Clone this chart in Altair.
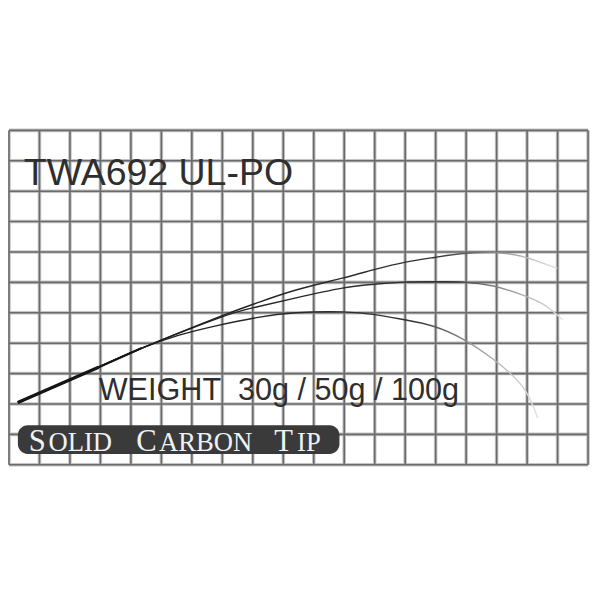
import altair as alt
import pandas as pd

# grid (19 columns x 11 rows)
grid_cols = list(range(20))
grid_rows = list(range(12))

# curves, in grid units (x to the right, y upward)
x_30g = [0.29, 2.94, 4.34, 6.83, 8.12, 9.42, 10.94, 12.01, 12.98, 13.95, 14.92, 15.89, 16.86, 17.99]
y_30g = [2.05, 3.21, 3.83, 4.84, 5.32, 5.75, 6.14, 6.43, 6.66, 6.82, 6.95, 6.98, 6.85, 6.46]
x_50g = [0.29, 2.94, 4.34, 6.83, 8.12, 9.42, 10.94, 12.01, 12.98, 13.95, 14.92, 15.89, 16.86, 17.61, 18.16]
y_50g = [2.05, 3.21, 3.83, 4.81, 5.19, 5.49, 5.81, 5.94, 6.01, 6.02, 6.01, 5.88, 5.58, 5.23, 4.77]
x_100g = [0.29, 2.94, 4.34, 5.53, 6.83, 8.12, 9.42, 10.94, 12.01, 12.98, 13.95, 14.92, 15.89, 16.86, 17.35]
y_100g = [2.05, 3.21, 3.83, 4.25, 4.58, 4.84, 5.0, 5.03, 4.94, 4.77, 4.55, 4.12, 3.47, 2.56, 1.53]

title_text = ["TWA692 UL-PO"]
weight_text = ["WEIGHT\u00a0\u00a030g / 50g / 100g"]
badge_big = ["S", "C", "T"]
badge_small = ["OLID", "ARBON", "IP"]

W, H = 587, 339
xs = alt.Scale(domain=[0, 19], range=[0, W])
ys = alt.Scale(domain=[0, 11], range=[H, 0])

vdf = pd.DataFrame({"c": grid_cols})
hdf = pd.DataFrame({"r": grid_rows})

v_halo = alt.Chart(vdf).mark_rule(color="#c4c4c4", strokeWidth=3.6).encode(
    x=alt.X("c:Q", scale=xs, axis=None))
h_halo = alt.Chart(hdf).mark_rule(color="#c4c4c4", strokeWidth=3.6).encode(
    y=alt.Y("r:Q", scale=ys, axis=None))
v_core = alt.Chart(vdf).mark_rule(color="#6a6a6a", strokeWidth=1.6).encode(
    x=alt.X("c:Q", scale=xs, axis=None))
h_core = alt.Chart(hdf).mark_rule(color="#6a6a6a", strokeWidth=1.6).encode(
    y=alt.Y("r:Q", scale=ys, axis=None))


def frame(xv, yv):
    return pd.DataFrame({"x": xv, "y": yv, "i": list(range(len(xv)))})


def curve(xv, yv, fade_start, fade_mid):
    grad = alt.Gradient(
        gradient="linear", x1=0, x2=1, y1=0, y2=0,
        stops=[
            alt.GradientStop(offset=0, color="#111111"),
            alt.GradientStop(offset=fade_start, color="#333333"),
            alt.GradientStop(offset=fade_mid, color="#9a9a9a"),
            alt.GradientStop(offset=1, color="#e2e2e2"),
        ],
    )
    return alt.Chart(frame(xv, yv)).mark_line(
        color=grad, strokeWidth=1.4, interpolate="natural"
    ).encode(
        x=alt.X("x:Q", scale=xs, axis=None),
        y=alt.Y("y:Q", scale=ys, axis=None),
        order="i:Q",
    )


c30 = curve(x_30g, y_30g, 0.78, 0.9)
c50 = curve(x_50g, y_50g, 0.8, 0.9)
c100 = curve(x_100g, y_100g, 0.76, 0.88)


def butt_layer(limit, width):
    return alt.Chart(frame(x_30g, y_30g)).transform_filter(
        f"datum.x <= {limit}"
    ).mark_line(color="#151515", strokeWidth=width, interpolate="monotone").encode(
        x=alt.X("x:Q", scale=xs, axis=None),
        y=alt.Y("y:Q", scale=ys, axis=None),
        order="i:Q",
    )


# thicker butt section where the three curves run together
butt = butt_layer(3.0, 3.2)
butt2 = butt_layer(4.4, 2.2)

title = alt.Chart(pd.DataFrame({"t": title_text})).mark_text(
    font="Liberation Sans", fontSize=38, color="#2e2e2e", align="left", baseline="alphabetic"
).encode(text="t:N", x=alt.value(15), y=alt.value(55))

weight = alt.Chart(pd.DataFrame({"t": weight_text})).mark_text(
    font="Liberation Sans", fontSize=31, color="#2e2e2e", align="left", baseline="alphabetic"
).encode(text="t:N", x=alt.value(91), y=alt.value(273))

badge = alt.Chart(pd.DataFrame({"a": [0]})).mark_rect(
    color="#3a3a3a", cornerRadius=10
).encode(x=alt.value(9), x2=alt.value(335), y=alt.value(299), y2=alt.value(328))

big_df = pd.DataFrame({"t": badge_big, "px": [20, 129, 269]})
small_df = pd.DataFrame({"t": badge_small, "px": [40, 152, 292]})

big = alt.Chart(big_df).mark_text(
    font="Liberation Serif", fontSize=31, color="#eef2f6", align="left", baseline="alphabetic"
).encode(text="t:N", x=alt.X("px:Q", scale=None), y=alt.value(325))
small = alt.Chart(small_df).mark_text(
    font="Liberation Serif", fontSize=27, color="#eef2f6", align="left", baseline="alphabetic"
).encode(text="t:N", x=alt.X("px:Q", scale=None), y=alt.value(325))

chart = alt.layer(
    v_halo, h_halo, v_core, h_core, c30, c50, c100, butt2, butt,
    title, weight, badge, big, small
).properties(
    width=W, height=H,
    autosize=alt.AutoSizeParams(type="none"),
    padding={"left": 1, "top": 120, "right": 4, "bottom": 133},
    background="white",
).configure_view(stroke=None)

chart.save("out.html", embed_options={"renderer": "svg", "actions": False})
